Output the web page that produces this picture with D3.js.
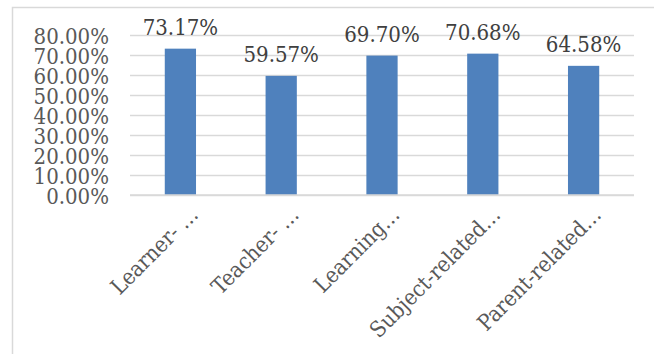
<!DOCTYPE html>
<html>
<head>
<meta charset="utf-8">
<script src="https://cdn.jsdelivr.net/npm/d3@7"></script>
<style>
  html, body { margin: 0; padding: 0; background: #fff; }
  svg { display: block; }
</style>
</head>
<body>
<script>
const categories = ["Learner- \u2026", "Teacher- \u2026", "Learning\u2026", "Subject-related\u2026", "Parent-related\u2026"];
const values = [73.17, 59.57, 69.70, 70.68, 64.58];
const tickValues = [0, 10, 20, 30, 40, 50, 60, 70, 80];

const W = 654, H = 354;
const FONT = "'DejaVu Serif Condensed', 'DejaVu Serif', serif";
const FS = 22;

const svg = d3.select("body").append("svg").attr("width", W).attr("height", H);
svg.append("rect").attr("width", W).attr("height", H).attr("fill", "#fff");

// chart frame (extends beyond the picture on the right and bottom)
svg.append("rect")
  .attr("x", 12.5).attr("y", 7.5).attr("width", 700).attr("height", 400)
  .attr("fill", "none").attr("stroke", "#D9D9D9").attr("stroke-width", 1.5);

const plot = { left: 130, right: 634, top: 35, bottom: 195 };

const x = d3.scaleBand().domain(categories).range([plot.left, plot.right]).paddingInner(0.69).paddingOuter(0.345);
const y = d3.scaleLinear().domain([0, 80]).range([plot.bottom, plot.top]);

// gridlines + y tick labels
const yAxis = d3.axisLeft(y).tickValues(tickValues).tickSize(-(plot.right - plot.left)).tickPadding(21)
  .tickFormat(d => d.toFixed(2) + "%");
const gy = svg.append("g").attr("transform", `translate(${plot.left},0)`).call(yAxis);
gy.select(".domain").remove();
gy.selectAll(".tick line").attr("stroke", "#D9D9D9").attr("stroke-width", 1.5);
gy.selectAll(".tick text").attr("fill", "#595959").attr("font-family", FONT).attr("font-size", FS)
  .attr("dy", "0.37em");

// bars
svg.append("g").selectAll("rect").data(values).join("rect")
  .attr("x", (d, i) => x(categories[i]))
  .attr("y", d => y(d))
  .attr("width", x.bandwidth())
  .attr("height", d => y(0) - y(d))
  .attr("fill", "#4F81BD");

// x axis line
svg.append("line").attr("x1", plot.left).attr("x2", plot.right)
  .attr("y1", y(0)).attr("y2", y(0)).attr("stroke", "#D9D9D9").attr("stroke-width", 1.5);

// data labels
svg.append("g").selectAll("text").data(values).join("text")
  .attr("x", (d, i) => x(categories[i]) + x.bandwidth() / 2)
  .attr("y", d => y(d) - 14)
  .attr("text-anchor", "middle")
  .attr("fill", "#404040").attr("font-family", FONT).attr("font-size", FS)
  .text(d => d.toFixed(2) + "%");

// category labels
const xAxis = d3.axisBottom(x).tickSize(0).tickPadding(0);
const gx = svg.append("g").attr("transform", `translate(0,${plot.bottom})`).call(xAxis);
gx.select(".domain").remove();
gx.selectAll(".tick text")
  .attr("fill", "#595959").attr("font-family", FONT).attr("font-size", FS)
  .attr("text-anchor", "end")
  .attr("dy", 0).attr("y", 0)
  .attr("transform", "translate(19,21) rotate(-45)");
</script>
</body>
</html>
